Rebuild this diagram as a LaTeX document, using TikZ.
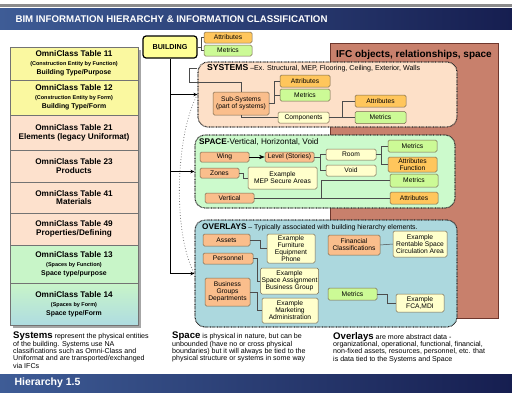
\documentclass[tikz,border=0pt]{standalone}
\usepackage{fontspec}
\setmainfont{Liberation Sans}
\usepackage{tikz}
\usetikzlibrary{arrows.meta, positioning, calc}
\definecolor{navy}     {RGB}{22,  30,  80}
\definecolor{barblue}  {RGB}{62,  92, 150}
\definecolor{ifcbrown} {RGB}{200, 128, 108}
\definecolor{ifcedge}  {RGB}{110,  55,  45}
\definecolor{sysfill}  {RGB}{253, 224, 200}
\definecolor{spcfill}  {RGB}{204, 250, 204}
\definecolor{ovlfill}  {RGB}{172, 216, 222}
\definecolor{attrfill} {RGB}{255, 198,  92}
\definecolor{metfill}  {RGB}{204, 250, 150}
\definecolor{elemfill} {RGB}{250, 190, 140}
\definecolor{exfill}   {RGB}{255, 255, 204}
\definecolor{bldfill}  {RGB}{255, 255, 150}
\definecolor{tabyellow}{RGB}{250, 248, 160}
\definecolor{tabpeach} {RGB}{253, 225, 205}
\definecolor{tabgreen} {RGB}{200, 245, 200}
\definecolor{tabblue}  {RGB}{175, 220, 225}
\definecolor{boxedge}  {RGB}{120, 105,  80}

\begin{document}
\begin{tikzpicture}[x=1pt, y=-1pt, >=Stealth,
  tabrow/.style={draw=black!55, outer sep=0pt, inner sep=0pt, minimum width=128, align=center, font=\fontsize{8.2}{8.8}\selectfont\bfseries},
  container/.style={draw=black!85, line width=1.1pt, dash pattern=on 0.7pt off 0.7pt, rounded corners=10pt},
  bx/.style={draw=boxedge, line width=0.5pt, rounded corners=1.5pt, inner sep=0pt, align=center, font=\fontsize{6.7}{7.1}\selectfont},
  sz/.style 2 args={minimum width=#1, minimum height=#2},
  attr/.style={bx, fill=attrfill},
  met/.style={bx, fill=metfill},
  elem/.style={bx, fill=elemfill},
  expl/.style={bx, fill=exfill},
  link/.style={draw=black!70, line width=0.5pt},
  trunk/.style={-{Stealth[length=4pt, width=3.5pt]}, line width=1pt},
  dotlink/.style={draw=black!50, line width=0.8pt, dotted},
  para/.style={anchor=north west, align=left, inner sep=0pt, font=\fontsize{7.1}{7.3}\selectfont}
]
  \useasboundingbox (0,0) rectangle (512,394);

  % Bars
  \fill[black!45] (0,4) rectangle (512,7);
  \fill[left color=barblue, right color=navy] (0,8) rectangle (512,29);
  \node[anchor=west, text=white, font=\fontsize{9.7}{11}\selectfont\bfseries] (title) at (12,19) {BIM INFORMATION HIERARCHY \& INFORMATION CLASSIFICATION};
  \fill[left color=barblue, right color=navy] (0,374) rectangle (512,392);
  \node[anchor=west, text=white, font=\fontsize{10.5}{12}\selectfont\bfseries] (hier) at (11,383) {Hierarchy 1.5};

  % OmniClass tables
  \fill[black!35] (13,50) rectangle (141,328);
  \node[tabrow, fill=tabyellow, minimum height=33, anchor=north] (t11) at (74,47) {OmniClass Table 11\\{\fontsize{5.5}{6.4}\selectfont (Construction Entity by Function)}\\{\fontsize{6.9}{7.4}\selectfont Building Type/Purpose}};
  \node[tabrow, fill=tabyellow, minimum height=35, below=0pt of t11] (t12) {OmniClass Table 12\\{\fontsize{5.5}{6.4}\selectfont (Construction Entity by Form)}\\{\fontsize{6.9}{7.4}\selectfont Building Type/Form}};
  \node[tabrow, fill=tabpeach, minimum height=35, below=0pt of t12] (t21) {OmniClass Table 21\\Elements (legacy Uniformat)};
  \node[tabrow, fill=tabpeach, minimum height=32, below=0pt of t21] (t23) {OmniClass Table 23\\Products};
  \node[tabrow, fill=tabpeach, minimum height=31, below=0pt of t23] (t41) {OmniClass Table 41\\Materials};
  \node[tabrow, fill=tabpeach, minimum height=32, below=0pt of t41] (t49) {OmniClass Table 49\\Properties/Defining};
  \node[tabrow, fill=tabgreen, minimum height=38, below=0pt of t49] (t13) {OmniClass Table 13\\{\fontsize{5.5}{6.4}\selectfont (Spaces by Function)}\\{\fontsize{6.9}{7.4}\selectfont Space type/purpose}};
  \node[tabrow, top color=tabgreen, bottom color=tabblue, minimum height=42, below=0pt of t13] (t14) {OmniClass Table 14\\{\fontsize{5.5}{6.4}\selectfont (Spaces by Form)}\\{\fontsize{6.9}{7.4}\selectfont Space type/Form}};

  % IFC panel
  \draw[ifcedge, fill=ifcbrown, line width=0.8pt] (330,43) rectangle (498,318);
  \node[anchor=north, font=\fontsize{10}{11}\selectfont\bfseries] (ifc) at (414,46.5) {IFC objects, relationships, space};

  % Building
  \node[draw, line width=1.2pt, rounded corners=3pt, fill=bldfill, sz={54}{22}, font=\fontsize{7.2}{8}\selectfont\bfseries] (bld) at (170,47) {BUILDING};
  \node[attr, sz={48}{11}] (battr) at (228,37.5) {Attributes};
  \node[met, sz={48}{11}] (bmet) at (228,50.5) {Metrics};
  \draw[link] (bld.east) -- ++(4,0) |- (battr.west);
  \draw[link] (bld.east) -- ++(4,0) |- (bmet.west);

  % Containers
  \node[container, fill=sysfill, sz={259}{65}] (sys) at (327.5,94.5) {};
  \node[container, fill=spcfill, sz={260}{73}] (spc) at (325,171.5) {};
  \node[container, fill=ovlfill, sz={262}{107}] (ovl) at (326,273.5) {};
  \node[anchor=west, inner sep=0pt, font=\fontsize{7.1}{8}\selectfont] (systag) at (207,68) {{\fontsize{8.6}{9}\selectfont\bfseries SYSTEMS} --Ex. Structural, MEP, Flooring, Ceiling, Exterior, Walls};
  \node[anchor=west, inner sep=0pt, font=\fontsize{8.2}{9}\selectfont] (spctag) at (199,142) {\textbf{SPACE}-Vertical, Horizontal, Void};
  \node[anchor=west, inner sep=0pt, font=\fontsize{6.9}{8}\selectfont] (ovltag) at (202,227) {{\fontsize{8.2}{9}\selectfont\bfseries OVERLAYS} -- Typically associated with building hierarchy elements.};

  % Trunk from building
  \draw[dotlink] (sys.west) .. controls +(-22,40) and +(-22,-40) .. (ovl.west);
  \draw[line width=1pt] (bld.south) -- (bld.south |- ovl.west);
  \draw[trunk] (bld.south |- sys.west) -- (sys.west);
  \draw[trunk] (bld.south |- spc.west) -- (spc.west);
  \draw[trunk] (bld.south |- ovl.west) -- (ovl.west);

  % Systems
  \node[elem, sz={56}{23}] (subsys) at (241,103.5) {Sub-Systems\\(part of systems)};
  \node[attr, sz={50}{12}] (sattr) at (305,81) {Attributes};
  \node[met, sz={50}{12}] (smet) at (305,95) {Metrics};
  \node[expl, sz={51}{11}] (comp) at (303.5,117.5) {Components};
  \node[attr, sz={51}{12}] (sattr2) at (380.5,101) {Attributes};
  \node[met, sz={51}{12}] (smet2) at (380.5,117.5) {Metrics};
  \draw[link] (sys.west |- systag) -- ++(-8,0) -- ++(0,14) -| (subsys.north);
  \draw[link] (subsys.east) -- ++(5,0) |- (sattr.west);
  \draw[link] (subsys.east) -- ++(5,0) |- (smet.west);
  \draw[link] (subsys.south) |- (comp.west);
  \draw[link] (comp.east) -- (smet2.west);
  \draw[link] (comp.east) -- ++(13,0) |- (sattr2.west);

  % Space
  \node[elem, sz={49}{10}] (wing) at (224.5,157) {Wing};
  \node[elem, sz={49}{10}] (level) at (289.5,157) {Level (Stories)};
  \node[expl, sz={50}{11}] (room) at (351,154.5) {Room};
  \node[expl, sz={50}{11}] (void) at (351,170.5) {Void};
  \node[met, sz={49}{12}] (pmet) at (412.5,146) {Metrics};
  \node[attr, sz={49}{15}] (pattr) at (412.5,164.5) {Attributes\\Function};
  \node[elem, sz={39}{10}] (zones) at (219.5,173) {Zones};
  \node[expl, sz={69}{22}] (mep) at (282.5,178) {Example\\MEP Secure Areas};
  \node[elem, sz={49}{10}] (vert) at (229.5,198) {Vertical};
  \node[met, sz={48}{13}] (pmet2) at (414,180.5) {Metrics};
  \node[attr, sz={48}{12}] (pattr2) at (414,198) {Attributes};
  \draw[->, line width=0.6pt] (wing) -- (level);
  \draw[link] (level.east) -- ++(6,0) |- (room.west);
  \draw[link] (level.east) -- ++(6,0) |- (void.west);
  \draw[link] (room.east) -- ++(5,0) |- (pmet.west);
  \draw[link] (room.east) -- ++(5,0) |- (pattr.west);
  \draw[link] (zones.east) -- ++(4,0) |- (mep.west);
  \draw[link] (vert.east) -- (pattr2.west);
  \draw[link] (vert.east) -- ++(67,0) |- (pmet2.west);

  % Overlays
  \node[elem, sz={47}{12}] (assets) at (226.5,240) {Assets};
  \node[expl, sz={48}{29}] (exfurn) at (291,248.5) {Example\\Furniture\\Equipment\\Phone};
  \node[elem, sz={50}{11}] (person) at (228,258.5) {Personnel};
  \node[expl, sz={58}{26}] (exspace) at (289.5,281) {Example\\Space Assignment\\Business Group};
  \node[elem, sz={45}{28}] (busgrp) at (227.5,292) {Business\\Groups\\Departments};
  \node[expl, sz={56}{25}] (exmkt) at (290,310.5) {Example\\Marketing\\Administration};
  \node[elem, sz={52}{20}] (fincls) at (354,245) {Financial\\Classifications};
  \node[expl, sz={54}{26}] (exrent) at (420,244) {Example\\Rentable Space\\Circulation Area};
  \node[met, sz={49}{12}] (omet) at (352.5,294) {Metrics};
  \node[expl, sz={48}{18}] (exfca) at (420,303) {Example\\FCA,MDI};
  \draw[link] (assets.east) -- ++(10,0) |- (exfurn.west);
  \draw[link] (person.east) -- ++(4,0) |- (exspace.west);
  \draw[link] (busgrp.east) -- ++(7,0) |- (exmkt.west);
  \draw[link] (fincls.east) -- (exrent.west);
  \draw[link] (omet.east) -- ++(10,0) |- (exfca.west);

  % Notes
  \node[para] (nsys) at (13,332) {{\fontsize{9.6}{7.3}\selectfont\bfseries Systems} represent the physical entities\\of the building. Systems use NA\\classifications such as Omni-Class and\\Uniformat and are transported/exchanged\\via IFCs};
  \node[para] (nspc) at (172,332) {{\fontsize{9.6}{7.3}\selectfont\bfseries Space} is physical in nature, but can be\\unbounded (have no or cross physical\\boundaries) but it will always be tied to the\\physical structure or systems in some way};
  \node[para] (novl) at (333,332) {{\fontsize{9.6}{7.3}\selectfont\bfseries Overlays} are more abstract data -\\organizational, operational, functional, financial,\\non-fixed assets, resources, personnel, etc. that\\is data tied to the Systems and Space};
\end{tikzpicture}
\end{document}
